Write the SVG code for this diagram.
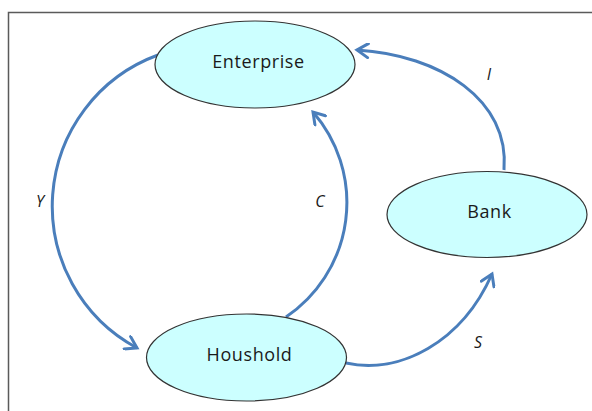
<svg xmlns="http://www.w3.org/2000/svg" width="592" height="411" viewBox="0 0 592 411">
<defs>
<style>
.node{fill:#ccffff;stroke:#333;stroke-width:1.2}
.lbl{font-family:"Open Sans","Liberation Sans",sans-serif;font-size:18px;letter-spacing:0.6px;fill:#1a1a1a;text-anchor:middle}
.it{font-family:"Open Sans","Liberation Sans",sans-serif;font-size:16px;font-style:italic;fill:#1a1a1a;text-anchor:middle}
.edge{fill:none;stroke:#4a7ebb;stroke-width:3;marker-end:url(#arr)}
</style>
<marker id="arr" markerUnits="userSpaceOnUse" viewBox="0 0 16 16" refX="13" refY="8" markerWidth="16" markerHeight="16" orient="auto">
<path d="M2,1 L13,8 L2,15" fill="none" stroke="#4a7ebb" stroke-width="3" stroke-linecap="round" stroke-linejoin="miter"/>
</marker>
</defs>
<rect width="592" height="411" fill="#fff"/>
<rect x="8.5" y="12.5" width="600" height="420" fill="none" stroke="#5a5a5a" stroke-width="1.5"/>
<g id="connectors">
<path id="eY" class="edge" d="M158,55 A161,161 0 0 0 137,348"/>
<path id="eC" class="edge" d="M286,317 A138,138 0 0 0 313,112"/>
<path id="eI" class="edge" d="M504,170 C510,100 440,55 357,50"/>
<path id="eS" class="edge" d="M346,363 C400,375 462,342 492,274"/>
<text class="it" x="40" y="207">Y</text>
<text class="it" x="320" y="207">C</text>
<text class="it" x="489" y="80">I</text>
<text class="it" x="478" y="348">S</text>
</g>
<g id="enterprise">
<ellipse class="node" cx="255" cy="64.5" rx="100" ry="43.5"/>
<text class="lbl" x="258.5" y="68">Enterprise</text>
</g>
<g id="bank">
<ellipse class="node" cx="487" cy="214.5" rx="100" ry="43"/>
<text class="lbl" x="489.5" y="218">Bank</text>
</g>
<g id="houshold">
<ellipse class="node" cx="246.5" cy="357.5" rx="100" ry="43.5"/>
<text class="lbl" x="249.5" y="361">Houshold</text>
</g>
</svg>
